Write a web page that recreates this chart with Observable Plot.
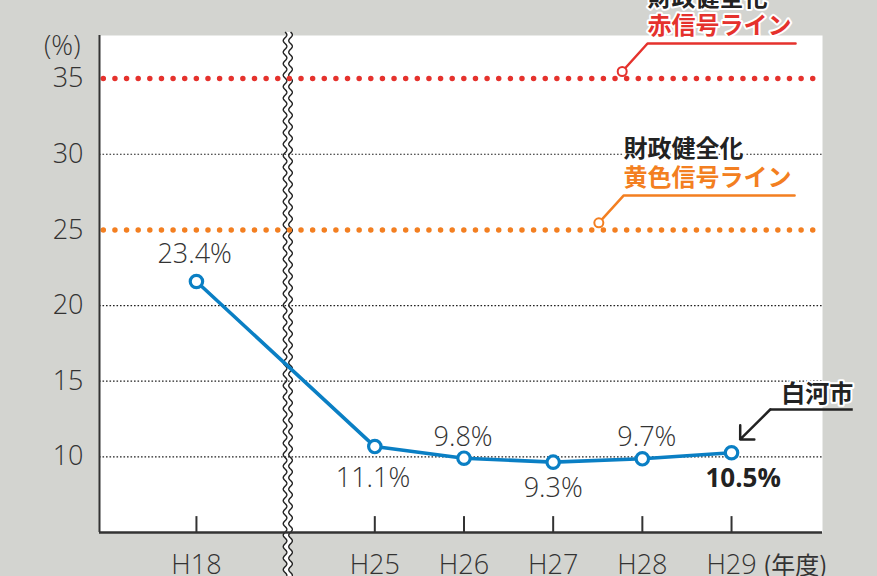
<!DOCTYPE html>
<html><head><meta charset="utf-8">
<script src="https://cdn.jsdelivr.net/npm/d3@7"></script>
<script src="https://cdn.jsdelivr.net/npm/@observablehq/plot@0.6"></script>
<style>html,body{margin:0;padding:0;background:#d3d4d0;overflow:hidden}</style>
</head><body><div id="chart"></div>
<script>
// ---- data ----
const years = ["H18", "H25", "H26", "H27", "H28", "H29"];
const yearPos = [0, 2, 3, 4, 5, 6];
const ratio = [21.59, 10.68, 9.91, 9.65, 9.87, 10.27];
const ratioLabels = ["23.4%", "11.1%", "9.8%", "9.3%", "9.7%", "10.5%"];
const labelX = [-0.02, 1.98, 2.99, 4.0, 5.05, 6.13];
const labelY = [22.8, 8.04, 10.7, 7.33, 10.7, 8.04];
const yTicks = [10, 15, 20, 25, 30, 35];
const gridLines = [10, 15, 20, 30];
const redLine = [35];
const yellowLine = [25];
const breakX = 1.03;
const xDomain = [-1.087, 7.02];
const yDomain = [5, 37.85];

// annotation anchors (data units)
const yellowLeader = [[4.512, 25.47], [4.789, 27.27], [6.707, 27.27]];
const redLeader = [[4.774, 35.47], [5.058, 37.32], [6.718, 37.32]];
const cityLeader = {x1: 6.434, y1: 13.13, x2: 6.097, y2: 11.15, xEnd: 7.365};

const data = years.map((year, i) => ({
  year, pos: yearPos[i], value: ratio[i], label: ratioLabels[i], lx: labelX[i], ly: labelY[i], bold: i === years.length - 1
}));

const BLUE = "#0a7fc4", RED = "#e5322d", ORANGE = "#f37f21", INK = "#333";
const LATIN = "'Open Sans', 'DejaVu Sans', sans-serif";
const JP = "'Noto Sans CJK JP', 'Noto Sans', sans-serif";

function breakMark(index, scales, values, dims) {
  const cx = scales.x(breakX);
  const y0 = dims.marginTop - 3, y1 = dims.height;
  const amp = 1.8, period = 11.5, gap = 5.5;
  const left = [], right = [];
  for (let y = y0; y <= y1; y += 0.5) {
    const o = amp * Math.sin(2 * Math.PI * (y - y0) / period);
    left.push([cx - gap / 2 + o, y]);
    right.push([cx + gap / 2 + o, y]);
  }
  const line = d3.line();
  const g = d3.create("svg:g");
  g.append("path").attr("d", line([...left, ...right.slice().reverse()]) + "Z").attr("fill", "white");
  g.append("path").attr("d", line(left)).attr("fill", "none").attr("stroke", "#222").attr("stroke-width", 1.4);
  g.append("path").attr("d", line(right)).attr("fill", "none").attr("stroke", "#222").attr("stroke-width", 1.4);
  return g.node();
}

const chart = Plot.plot({
  width: 877, height: 576,
  marginLeft: 99, marginRight: 55, marginTop: 35, marginBottom: 44,
  style: {background: "#d3d4d0", color: INK, fontFamily: LATIN, overflow: "hidden"},
  x: {domain: xDomain, axis: null},
  y: {domain: yDomain, axis: null},
  marks: [
    Plot.frame({fill: "white", stroke: null}),
    breakMark,
    Plot.ruleY(gridLines, {stroke: "#222", strokeWidth: 1.2, strokeDasharray: "1.6 1.9"}),
    Plot.ruleY(yellowLine, {stroke: ORANGE, strokeWidth: 5.5, strokeDasharray: "0 11.63", strokeLinecap: "round", strokeDashoffset: 7.33}),
    Plot.ruleY(redLine, {stroke: RED, strokeWidth: 5.5, strokeDasharray: "0 11.63", strokeLinecap: "round", strokeDashoffset: 7.33}),
    // axes
    Plot.ruleX([xDomain[0]], {stroke: INK, strokeWidth: 2}),
    Plot.ruleY([yDomain[0]], {stroke: INK, strokeWidth: 2.5}),
    Plot.ruleX(yearPos, {y1: yDomain[0], y2: 6.05, stroke: INK, strokeWidth: 2}),
    Plot.text(yTicks, {x: xDomain[0], y: d => d, text: d => String(d), textAnchor: "end", dx: -16, fontSize: 27, fontWeight: 300, fill: INK}),
    Plot.text(["(%)"], {x: -1.30, y: 36.53, text: d => d, textAnchor: "end", lineAnchor: "bottom", fontSize: 27, fontWeight: 300, fill: INK}),
    Plot.text(data, {x: "pos", y: yDomain[0], text: "year", dy: 41, lineAnchor: "bottom", fontSize: 27, fontWeight: 300, fill: INK}),
    Plot.text(["(年度)"], {x: 6.355, y: yDomain[0], text: d => d, dy: 41, lineAnchor: "bottom", textAnchor: "start", fontSize: 24, fill: INK, fontFamily: JP}),
    // series
    Plot.line(data, {x: "pos", y: "value", stroke: BLUE, strokeWidth: 3.6}),
    Plot.dot(data, {x: "pos", y: "value", r: 6.2, fill: "white", stroke: BLUE, strokeWidth: 3.2}),
    Plot.text(data.filter(d => !d.bold), {x: "lx", y: "ly", text: "label", lineAnchor: "bottom", fontSize: 27, fontWeight: 300, fill: INK, stroke: "white", strokeWidth: 4, paintOrder: "stroke"}),
    Plot.text(data.filter(d => d.bold), {x: "lx", y: "ly", text: "label", lineAnchor: "bottom", fontSize: 26, fontWeight: "bold", fill: "#222", stroke: "white", strokeWidth: 4, paintOrder: "stroke"}),
    // yellow signal annotation
    Plot.line(yellowLeader, {x: d => d[0], y: d => d[1], stroke: ORANGE, strokeWidth: 2.5}),
    Plot.dot([yellowLeader[0]], {x: d => d[0], y: d => d[1], r: 4.5, fill: "white", stroke: ORANGE, strokeWidth: 2}),
    Plot.text(["財政健全化"], {x: yellowLeader[1][0], y: 29.8, text: d => d, textAnchor: "start", lineAnchor: "bottom", fontSize: 24, fontWeight: "bold", fill: "#222", fontFamily: JP, stroke: "white", strokeWidth: 4, paintOrder: "stroke"}),
    Plot.text(["黄色信号ライン"], {x: yellowLeader[1][0], y: 27.93, text: d => d, textAnchor: "start", lineAnchor: "bottom", fontSize: 24, fontWeight: "bold", fill: ORANGE, fontFamily: JP, stroke: "white", strokeWidth: 4, paintOrder: "stroke"}),
    // red signal annotation
    Plot.line(redLeader, {x: d => d[0], y: d => d[1], stroke: RED, strokeWidth: 2.5}),
    Plot.dot([redLeader[0]], {x: d => d[0], y: d => d[1], r: 4.5, fill: "white", stroke: RED, strokeWidth: 2}),
    Plot.text(["財政健全化"], {x: redLeader[1][0], y: 39.83, text: d => d, textAnchor: "start", lineAnchor: "bottom", fontSize: 24, fontWeight: "bold", fill: "#222", fontFamily: JP, stroke: "white", strokeWidth: 4, paintOrder: "stroke"}),
    Plot.text(["赤信号ライン"], {x: redLeader[1][0], y: 37.98, text: d => d, textAnchor: "start", lineAnchor: "bottom", fontSize: 24, fontWeight: "bold", fill: RED, fontFamily: JP, stroke: "white", strokeWidth: 4, paintOrder: "stroke"}),
    // city annotation
    Plot.ruleY([cityLeader.y1], {x1: cityLeader.x1, x2: cityLeader.xEnd, stroke: "#222", strokeWidth: 2.5}),
    Plot.arrow([cityLeader], {x1: "x1", y1: "y1", x2: "x2", y2: "y2", stroke: "#222", strokeWidth: 2.5, headLength: 14, headAngle: 90}),
    Plot.text(["白河市"], {x: 6.558, y: 13.61, text: d => d, textAnchor: "start", lineAnchor: "bottom", fontSize: 24, fontWeight: "bold", fill: "#222", fontFamily: JP, stroke: "white", strokeWidth: 4, paintOrder: "stroke"})
  ]
});
document.getElementById("chart").appendChild(chart);
</script>
</body></html>
